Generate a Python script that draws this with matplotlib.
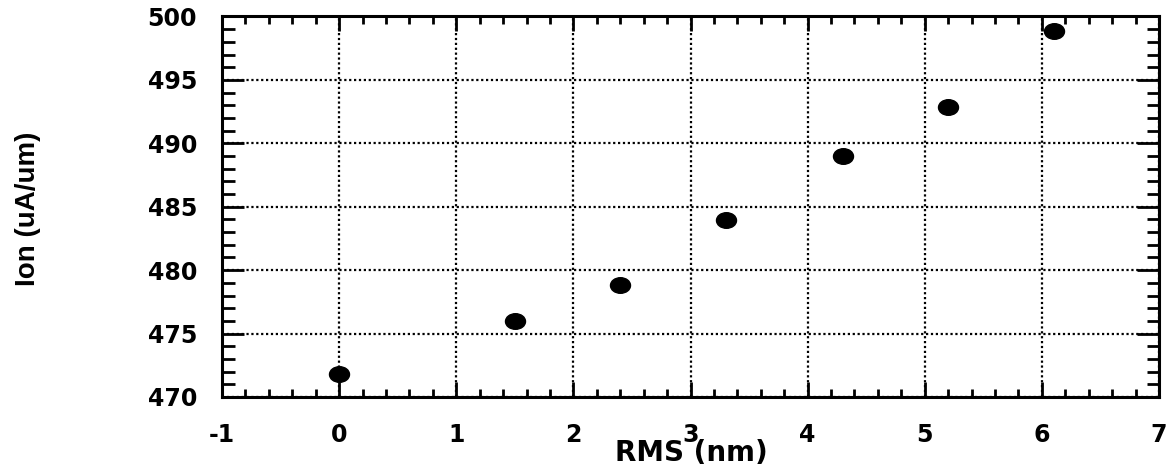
import matplotlib
matplotlib.use("Agg")
import matplotlib.pyplot as plt
from matplotlib.ticker import MultipleLocator
from matplotlib.path import Path
from matplotlib.transforms import Affine2D

x_rms = [0.0, 1.5, 2.4, 3.3, 4.3, 5.2, 6.1]
y_ion = [471.8, 476.0, 478.85, 483.95, 489.0, 492.9, 498.85]
x_ticks = [-1, 0, 1, 2, 3, 4, 5, 6, 7]
y_ticks = [470, 475, 480, 485, 490, 495, 500]

plt.rcParams['axes.unicode_minus'] = False
plt.rcParams['font.family'] = ['DejaVu Sans']

W, H = 1173, 467
fig = plt.figure(figsize=(W / 100, H / 100), dpi=100)
L, R, T, B = 222, 1159, 16.5, 397
ax = fig.add_axes([L / W, 1 - B / H, (R - L) / W, (B - T) / H])

ellipse = Path.unit_circle().transformed(Affine2D().scale(1.0, 0.78))
ax.plot(x_rms, y_ion, linestyle='none', marker=ellipse, color='black',
        markersize=14.4, zorder=5, clip_on=False)

ax.set_xlim(-1, 7)
ax.set_ylim(470, 500)
ax.set_xticks(x_ticks)
ax.set_yticks(y_ticks)
ax.xaxis.set_minor_locator(MultipleLocator(0.2))
ax.yaxis.set_minor_locator(MultipleLocator(1))
ax.tick_params(which='both', direction='in', top=True, right=True, color='black')
ax.tick_params(axis='x', which='major', length=11, width=2, labelsize=17, pad=18.5)
ax.tick_params(axis='x', which='minor', length=6, width=2)
ax.tick_params(axis='y', which='major', length=16, width=2, labelsize=17, pad=18)
ax.tick_params(axis='y', which='minor', length=9, width=2)
for lab in ax.get_xticklabels() + ax.get_yticklabels():
    lab.set_fontweight('bold')
ax.grid(True, which='major', linestyle=(0, (1, 1.2)), color='black', linewidth=1.6)
for s in ax.spines.values():
    s.set_linewidth(2.2)

fig.text(691 / W, 1 - 461 / H, 'RMS (nm)', fontsize=20, fontweight='bold',
         ha='center', va='baseline')
fig.text(28 / W, 1 - 209 / H, 'Ion (uA/um)', rotation=90, fontsize=20,
         fontweight='bold', ha='center', va='center',
         family=['Liberation Sans', 'DejaVu Sans'])

fig.savefig('out.png', dpi=100)
